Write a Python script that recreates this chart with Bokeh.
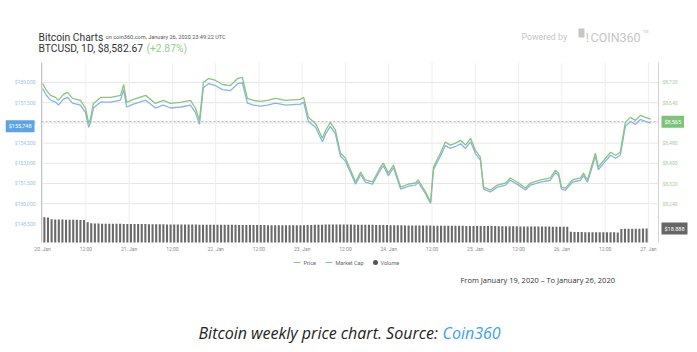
from bokeh.plotting import figure
from bokeh.models import Range1d, Label, ColumnDataSource
from bokeh.core.properties import value
from bokeh.embed import file_html
from bokeh.resources import INLINE

# ---------------- data (hours after 20 Jan 2020 00:00 UTC) ----------------
hours = [0.0, 1.1, 2.2, 3.6, 4.4, 5.8, 6.9, 8.3, 10.5, 11.9, 12.8, 13.3, 14.1, 16.1,
         18.9, 21.6, 22.5, 23.3, 25.2, 28.6, 31.3, 33.5, 35.5, 38.3, 41.0, 42.4, 43.5,
         44.6, 46.0, 48.0, 49.9, 52.1, 54.1, 55.4, 56.8, 58.5, 60.4, 62.4, 64.6, 67.4,
         71.5, 72.4, 73.7, 75.7, 77.6, 78.5, 79.8, 81.2, 82.6, 84.0, 85.4, 86.8, 88.2,
         89.5, 91.5, 93.7, 94.5, 95.9, 97.3, 99.3, 101.5, 103.4, 104.2, 106.2, 107.6,
         108.4, 110.3, 111.7, 113.1, 114.5, 115.9, 117.3, 118.7, 120.0, 121.4, 122.3,
         124.2, 126.1, 128.4, 129.7, 132.0, 133.9, 135.3, 138.1, 140.8, 142.2, 143.1,
         143.9, 145.0, 146.9, 149.2, 150.0, 151.1, 153.3, 154.1, 156.1, 157.5, 158.9,
         160.2, 161.6, 163.0, 164.4, 165.8, 167.2, 168.6]

price = [8716, 8688, 8669, 8661, 8649, 8673, 8681, 8657, 8649, 8618, 8558, 8578, 8637, 8661,
         8661, 8669, 8712, 8641, 8653, 8669, 8637, 8649, 8637, 8641, 8649, 8618, 8570,
         8720, 8736, 8728, 8712, 8708, 8736, 8740, 8657, 8649, 8645, 8649, 8657, 8649,
         8653, 8661, 8582, 8558, 8499, 8531, 8562, 8531, 8440, 8420, 8373, 8326, 8365,
         8334, 8326, 8385, 8401, 8361, 8393, 8306, 8318, 8322, 8334, 8286, 8247,
         8385, 8440, 8484, 8472, 8480, 8491, 8472, 8499, 8452, 8424, 8306,
         8294, 8314, 8322, 8342, 8322, 8302, 8322, 8334, 8342, 8373, 8361,
         8306, 8302, 8334, 8342, 8361, 8334, 8440, 8385, 8420, 8444, 8432,
         8444, 8562, 8582, 8570, 8590, 8582, 8575]

market_cap = [158544, 158035, 157689, 157544, 157325, 157762, 157907, 157471, 157325, 156761,
              155670, 156034, 157107, 157544, 157544, 157689, 158471, 157180, 157398, 157689,
              157107, 157325, 157107, 157180, 157325, 156761, 155888, 158617, 158908, 158762,
              158471, 158399, 158908, 158981, 157471, 157325, 157253, 157325, 157471, 157325,
              157398, 157544, 156107, 155670, 154597, 155179, 155743, 155179, 153524, 153160,
              152305, 151450, 152159, 151595, 151450, 152523, 152814, 152087, 152669, 151086,
              151304, 151377, 151595, 150722, 150013, 152523, 153524, 154324, 154106, 154251,
              154451, 154106, 154597, 153742, 153233, 151086, 150868, 151232, 151377, 151741,
              151377, 151013, 151377, 151595, 151741, 152305, 152087, 151086, 151013, 151595,
              151741, 152087, 151595, 153524, 152523, 153160, 153596, 153378, 153596, 155743,
              156107, 155888, 156252, 156107, 155979]

# 24h volume (billions USD), one bar per hour
vol_jan20 = [34.2, 33.9, 31.4, 31.2, 31.1, 31.0, 30.8, 30.7, 30.7, 30.6, 30.5, 30.3,
             27.2, 26.0, 25.7, 25.6, 25.4, 25.4, 25.3, 25.3, 25.2, 25.2, 25.1, 25.1]
vol_jan21 = [25.1, 24.9, 24.9, 24.8, 24.8, 24.7, 24.7, 24.7, 24.5, 24.5, 24.4, 24.4,
             24.4, 24.3, 24.3, 24.3, 24.2, 24.2, 24.2, 24.0, 24.0, 24.0, 23.9, 23.9]
vol_jan22 = [23.9, 23.9, 23.8, 23.8, 23.8, 23.8, 23.6, 23.6, 23.6, 23.6, 23.5, 23.5,
             23.5, 23.5, 23.4, 23.4, 23.4, 23.4, 23.4, 23.3, 23.3, 23.3, 23.3, 23.3]
vol_jan23 = [23.4, 23.5, 23.6, 23.8, 23.9, 24.0, 24.2, 24.2, 24.3, 24.3, 24.3, 24.3,
             24.2, 24.2, 24.0, 24.0, 23.9, 23.9, 23.8, 23.8, 23.6, 23.6, 23.5, 23.5]
vol_jan24 = [23.4, 23.4, 23.3, 23.3, 23.1, 23.1, 23.0, 23.0, 23.0, 22.9, 22.9, 22.9,
             22.7, 22.7, 22.7, 22.6, 22.6, 22.6, 22.5, 22.5, 22.5, 22.4, 22.4, 22.4]
vol_jan25 = [22.2, 22.2, 22.2, 22.1, 22.1, 22.1, 22.0, 22.0, 22.0, 21.8, 21.8, 21.8,
             21.7, 21.7, 21.7, 21.6, 21.6, 21.6, 21.5, 21.5, 21.5, 21.3, 21.3, 21.3]
vol_jan26 = [21.2, 21.1, 14.4, 14.3, 14.1, 14.1, 14.0, 14.0, 13.9, 13.9, 13.9, 13.7,
             13.7, 13.7, 13.7, 13.6, 18.3, 18.4, 18.4, 18.5, 18.6, 18.6, 18.8, 18.8]
volume = vol_jan20 + vol_jan21 + vol_jan22 + vol_jan23 + vol_jan24 + vol_jan25 + vol_jan26
vol_hours = [h + 0.5 for h in range(len(volume))]

x_ticks = [0, 12, 24, 36, 48, 60, 72, 84, 96, 108, 120, 132, 144, 156, 168]
x_tick_labels = ["20. Jan", "12:00", "21. Jan", "12:00", "22. Jan", "12:00", "23. Jan",
                 "12:00", "24. Jan", "12:00", "25. Jan", "12:00", "26. Jan", "12:00", "27. Jan"]
price_ticks = [8240, 8320, 8400, 8480, 8560, 8640, 8720]
price_tick_labels = ["$8,240", "$8,320", "$8,400", "$8,480", "$8,560", "$8,640", "$8,720"]
mcap_ticks = [148500, 150000, 151500, 153000, 154500, 156000, 157500, 159000]
mcap_tick_labels = ["$148,500", "$150,000", "$151,500", "$153,000", "$154,500",
                    "$156,000", "$157,500", "$159,000"]

current_price = 8565
current_mcap = 155748
current_volume = 18.888

# ---------------- figure: the frame covers the whole page ----------------
# hour range: plot area spans -0.3 h .. 170.8 h
# price range: plot area spans 8086.4 .. 8799.2
H0, H1 = -0.3, 170.8
P0, P1 = 8086.4, 8799.2
p = figure(width=697, height=352,
           x_range=Range1d(-11.670, 181.614), y_range=Range1d(7650.8, 9044.7),
           x_axis_location=None, y_axis_location=None,
           toolbar_location=None, output_backend="svg",
           min_border_left=0, min_border_right=0, min_border_top=0, min_border_bottom=0)
p.outline_line_color = None
p.background_fill_color = "white"
p.border_fill_color = "white"
p.xgrid.visible = False
p.ygrid.visible = False
p.extra_x_ranges = {"px": Range1d(0, 697)}
p.extra_y_ranges = {"px": Range1d(352, 0),
                    "mcap": Range1d(138950, 165089),
                    "vol": Range1d(-148.4, 326.5)}

GRID = "#e6e6e6"
# horizontal grid (price ticks) and vertical grid (time ticks)
p.segment(x0=[H0] * len(price_ticks), x1=[H1] * len(price_ticks),
          y0=price_ticks, y1=price_ticks, line_color=GRID, line_width=1)
p.segment(x0=x_ticks, x1=x_ticks, y0=[P0] * len(x_ticks), y1=[P1] * len(x_ticks),
          line_color="#eeeeee", line_width=1)

# volume bars
vsrc = ColumnDataSource(dict(x=vol_hours, top=volume))
p.vbar(x="x", top="top", bottom=0, width=0.58, source=vsrc, y_range_name="vol",
       fill_color="#6a6a6a", line_color=None)

# axis lines (left / right edges of the plot area)
p.segment(x0=[H0, H1], x1=[H0, H1], y0=[P0, P0], y1=[P1, P1],
          line_color=["#c4c4c4", "#d4d4d4"], line_width=1)

# current value dashed line
p.segment(x0=[H0], x1=[H1], y0=[current_price], y1=[current_price],
          line_color="#b8b8b8", line_dash="2 2", line_width=1)

# series lines
p.line(hours, market_cap, y_range_name="mcap", line_color="#86b4e4", line_width=1.3)
p.line(hours, price, line_color="#8cc47e", line_width=1.3)

FONT = value("Roboto")

# tick labels
p.text(x=[35] * len(mcap_ticks), y=mcap_ticks, text=mcap_tick_labels,
       x_range_name="px", y_range_name="mcap", text_font=FONT,
       text_font_size=value("5px"), text_color="#9dc2e6",
       text_align="right", text_baseline="middle")
p.text(x=[662] * len(price_ticks), y=price_ticks, text=price_tick_labels,
       x_range_name="px", text_font=FONT,
       text_font_size=value("5px"), text_color="#9fcf92",
       text_align="left", text_baseline="middle")
p.text(x=x_ticks, y=[248] * len(x_ticks), text=x_tick_labels,
       y_range_name="px", text_font=FONT,
       text_font_size=value("5px"), text_color="#8c8c8c",
       text_align="center", text_baseline="middle")

# value markers
p.add_layout(Label(x=34, y=current_mcap, x_range_name="px", y_range_name="mcap",
                   text="$155,748", text_font="Roboto", text_font_size="5.5px",
                   text_color="white", text_align="right", text_baseline="middle",
                   background_fill_color="#5ba3e6", padding=3))
p.add_layout(Label(x=661, y=current_price, x_range_name="px",
                   text="$8,565", text_font="Roboto", text_font_size="5.5px",
                   text_color="white", text_align="left", text_baseline="middle",
                   background_fill_color="#7dc47a", padding=3))
p.add_layout(Label(x=661, y=current_volume, x_range_name="px", y_range_name="vol",
                   text="$18.888", text_font="Roboto", text_font_size="5.5px",
                   text_color="white", text_align="left", text_baseline="middle",
                   background_fill_color="#666666", padding=3))


def txt(x, y, s, size, color, font=FONT, style="normal", align="left", baseline="alphabetic"):
    p.text(x=[x], y=[y], text=[s], x_range_name="px", y_range_name="px",
           text_font=font, text_font_size=value(size), text_color=color,
           text_font_style=style, text_align=align, text_baseline=baseline)


# header
txt(38, 36.5, "Bitcoin Charts", "10.3px", "#333333")
txt(105, 36, "on coin360.com, January 26, 2020 23:49:22 UTC", "5.6px", "#555555")
txt(38, 48, "BTCUSD, 1D, $8,582.67", "10.3px", "#333333")
txt(146, 48, "(+2.87%)", "10.3px", "#8fcf8a")
txt(521, 36.5, "Powered by", "8.8px", "#c6c6c6")
p.quad(left=[578], right=[584], top=[28], bottom=[37], x_range_name="px",
       y_range_name="px", fill_color="#c6c6c6", line_color=None)
txt(584.5, 37, "!", "12px", "#c6c6c6", font=value("DejaVu Sans"))
txt(590, 37, "COIN360", "12.5px", "#c6c6c6")
txt(642, 31, "TM", "4px", "#c6c6c6")

# legend
p.segment(x0=[293, 325], x1=[300, 332], y0=[262, 262], y1=[262, 262],
          x_range_name="px", y_range_name="px",
          line_color=["#8cc47e", "#86b4e4"], line_width=1)
p.scatter(x=[375], y=[262], x_range_name="px", y_range_name="px",
          size=5, fill_color="#555555", line_color=None)
txt(303, 262, "Price", "5.5px", "#666666", baseline="middle")
txt(335, 262, "Market Cap", "5.5px", "#666666", baseline="middle")
txt(380, 262, "Volume", "5.5px", "#666666", baseline="middle")

# date range note
txt(460, 279, "From January 19, 2020 \u2013 To January 26, 2020", "7.5px", "#333333",
    font=value("Open Sans"), baseline="middle")

# caption
txt(198, 332, "Bitcoin weekly price chart. Source:", "16px", "#222222",
    font=value("Open Sans"), style="italic", baseline="middle")
txt(442, 332, "Coin360", "16px", "#3a9ff0",
    font=value("Open Sans"), style="italic", baseline="middle")

open("out.html", "w").write(file_html(p, INLINE))
